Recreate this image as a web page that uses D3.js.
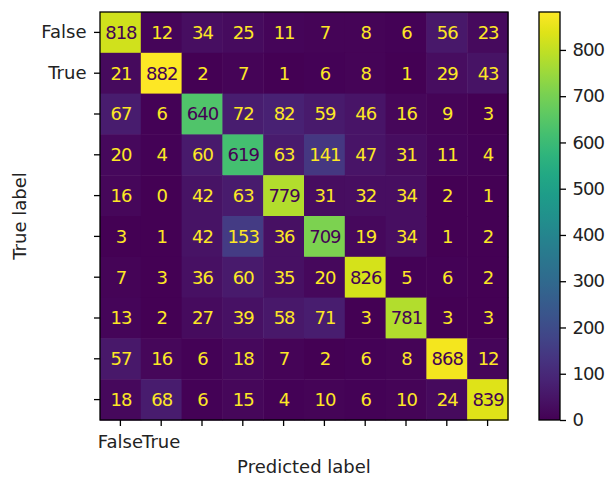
<!DOCTYPE html>
<html>
<head>
<meta charset="utf-8">
<script src="https://cdn.jsdelivr.net/npm/d3@7"></script>
<style>
  body { margin: 0; background: #fff; }
  text { font-family: "DejaVu Sans", sans-serif; }
</style>
</head>
<body>
<div id="chart"></div>
<script>
// Confusion matrix values (rows = true label, cols = predicted label)
var rowIndex = [0, 1, 2, 3, 4, 5, 6, 7, 8, 9];
var tickLabels = ["False", "True", "", "", "", "", "", "", "", ""];
var row0 = [818, 12, 34, 25, 11, 7, 8, 6, 56, 23];
var row1 = [21, 882, 2, 7, 1, 6, 8, 1, 29, 43];
var row2 = [67, 6, 640, 72, 82, 59, 46, 16, 9, 3];
var row3 = [20, 4, 60, 619, 63, 141, 47, 31, 11, 4];
var row4 = [16, 0, 42, 63, 779, 31, 32, 34, 2, 1];
var row5 = [3, 1, 42, 153, 36, 709, 19, 34, 1, 2];
var row6 = [7, 3, 36, 60, 35, 20, 826, 5, 6, 2];
var row7 = [13, 2, 27, 39, 58, 71, 3, 781, 3, 3];
var row8 = [57, 16, 6, 18, 7, 2, 6, 8, 868, 12];
var row9 = [18, 68, 6, 15, 4, 10, 6, 10, 24, 839];
var colorTicks = [0, 100, 200, 300, 400, 500, 600, 700, 800];

var matrix = [row0, row1, row2, row3, row4, row5, row6, row7, row8, row9];

var W = 607, H = 479;
var margin = { top: 12, left: 100 };
var size = 408;
var fontSize = 18;
var textColor = "#222";

var svg = d3.select("#chart").append("svg")
  .attr("width", W)
  .attr("height", H);

var cells = [];
matrix.forEach(function (row, i) {
  row.forEach(function (v, j) {
    cells.push({ row: i, col: j, value: v });
  });
});

var vmin = d3.min(cells, function (d) { return d.value; });
var vmax = d3.max(cells, function (d) { return d.value; });

var x = d3.scaleBand().domain(rowIndex).range([0, size]);
var y = d3.scaleBand().domain(rowIndex).range([0, size]);
var color = d3.scaleSequential(d3.interpolateViridis).domain([vmin, vmax]);

var g = svg.append("g")
  .attr("transform", "translate(" + margin.left + "," + margin.top + ")");

// heatmap cells
g.selectAll("rect.cell")
  .data(cells)
  .enter()
  .append("rect")
  .attr("class", "cell")
  .attr("x", function (d) { return x(d.col); })
  .attr("y", function (d) { return y(d.row); })
  .attr("width", x.bandwidth() + 0.5)
  .attr("height", y.bandwidth() + 0.5)
  .attr("fill", function (d) { return color(d.value); });

// cell numbers, dark text on bright cells
var thresh = (vmin + vmax) / 2;
g.selectAll("text.val")
  .data(cells)
  .enter()
  .append("text")
  .attr("class", "val")
  .attr("x", function (d) { return x(d.col) + x.bandwidth() / 2 + 0.5; })
  .attr("y", function (d) { return y(d.row) + y.bandwidth() / 2; })
  .attr("dy", "0.36em")
  .attr("text-anchor", "middle")
  .style("font-size", fontSize + "px")
  .style("letter-spacing", "-1px")
  .attr("fill", function (d) { return d.value < thresh ? color(vmax) : color(vmin); })
  .text(function (d) { return d.value; });

// axes
var xAxis = g.append("g")
  .attr("transform", "translate(0," + size + ")")
  .call(d3.axisBottom(x).tickSize(6).tickPadding(9)
    .tickFormat(function (d) { return tickLabels[d]; }));
var yAxis = g.append("g")
  .call(d3.axisLeft(y).tickSize(6).tickPadding(7.5)
    .tickFormat(function (d) { return tickLabels[d]; }));

[xAxis, yAxis].forEach(function (a) {
  a.select(".domain").remove();
  a.selectAll("line").attr("stroke", "#000").attr("stroke-width", 1.3);
  a.selectAll("text")
    .style("font-size", fontSize + "px")
    .style("font-family", "DejaVu Sans")
    .attr("fill", textColor);
});

// frame
g.append("rect")
  .attr("width", size)
  .attr("height", size)
  .attr("fill", "none")
  .attr("stroke", "#000")
  .attr("stroke-width", 1.3);

// axis titles
svg.append("text")
  .attr("x", margin.left + size / 2)
  .attr("y", 473)
  .attr("text-anchor", "middle")
  .style("font-size", fontSize + "px")
  .attr("fill", textColor)
  .text("Predicted label");

svg.append("text")
  .attr("transform", "translate(26," + (margin.top + size / 2) + ") rotate(-90)")
  .attr("text-anchor", "middle")
  .style("font-size", fontSize + "px")
  .attr("fill", textColor)
  .text("True label");

// colorbar
var cbX = 539, cbW = 21;
var cbScale = d3.scaleLinear().domain([vmin, vmax]).range([margin.top + size, margin.top]);

var defs = svg.append("defs");
var grad = defs.append("linearGradient")
  .attr("id", "cbgrad")
  .attr("x1", "0").attr("y1", "1")
  .attr("x2", "0").attr("y2", "0");
grad.selectAll("stop")
  .data(d3.range(0, 1.0001, 0.05))
  .enter()
  .append("stop")
  .attr("offset", function (t) { return t; })
  .attr("stop-color", function (t) { return d3.interpolateViridis(t); });

svg.append("rect")
  .attr("x", cbX)
  .attr("y", margin.top)
  .attr("width", cbW)
  .attr("height", size)
  .attr("fill", "url(#cbgrad)")
  .attr("stroke", "#000")
  .attr("stroke-width", 1.3);

var cbAxis = svg.append("g")
  .attr("transform", "translate(" + (cbX + cbW) + ",0)")
  .call(d3.axisRight(cbScale).tickValues(colorTicks).tickSize(6).tickPadding(6.5));
cbAxis.select(".domain").remove();
cbAxis.selectAll("line").attr("stroke", "#000").attr("stroke-width", 1.3);
cbAxis.selectAll("text")
  .style("font-size", fontSize + "px")
  .style("font-family", "DejaVu Sans")
  .style("letter-spacing", "-1px")
  .attr("fill", textColor);
</script>
</body>
</html>
